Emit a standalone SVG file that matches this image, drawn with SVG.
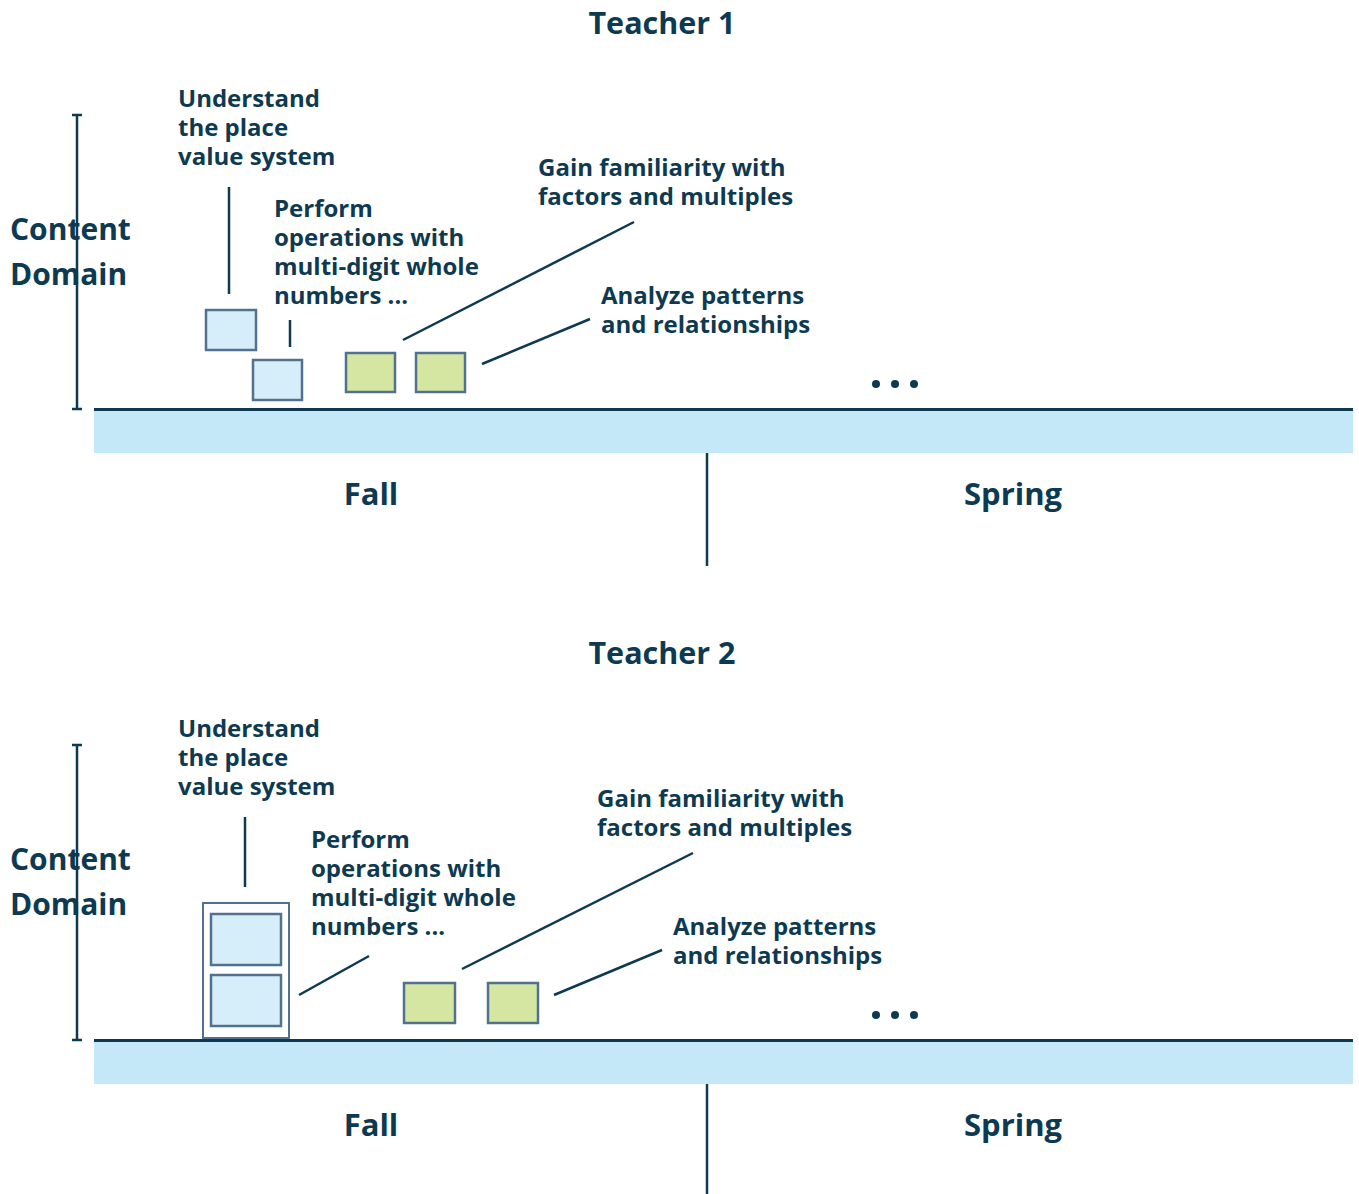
<svg xmlns="http://www.w3.org/2000/svg" width="1359" height="1194" viewBox="0 0 1359 1194">
<style>
text{font-family:"Open Sans","Liberation Sans",sans-serif;font-weight:bold;fill:#0e3a51}
.t{font-size:24px}
.h{font-size:30.5px;text-anchor:middle}
.cd{font-size:30px}
.s{font-size:31px;text-anchor:middle}
.ln{stroke:#0e3a51;stroke-width:2.5;fill:none}
.axis{stroke:#0e3a51;stroke-width:3}
.band{fill:#c5e8f8}
.bb{fill:#d6eefa;stroke:#52708f;stroke-width:2.5}
.gb{fill:#d5e6a3;stroke:#52708f;stroke-width:2.5}
.ob{fill:#fff;stroke:#52708f;stroke-width:2}
.dot{fill:#0e3a51}
</style>
<g id="teacher1">
<text class="h" x="662" y="34">Teacher 1</text>
<g id="t1-axis">
<path class="ln" d="M77 115V409M72 115H82M72 409H82"/>
<text class="cd" x="10" y="240">Content</text>
<text class="cd" x="10" y="285">Domain</text>
<rect class="band" x="94" y="410" width="1259" height="43"/>
<path class="axis" d="M94 409.5H1353"/>
<path class="ln" d="M707 453V566"/>
<text class="s" x="371" y="505">Fall</text>
<text class="s" x="1013" y="505">Spring</text>
</g>
<g id="t1-place"><rect class="bb" x="206" y="310" width="50" height="40"/>
<text class="t"><tspan x="178" y="107">Understand</tspan><tspan x="178" y="136">the place</tspan><tspan x="178" y="165">value system</tspan></text></g>
<g id="t1-ops"><rect class="bb" x="253" y="360" width="49" height="40"/>
<text class="t"><tspan x="274" y="217">Perform</tspan><tspan x="274" y="246">operations with</tspan><tspan x="274" y="275">multi-digit whole</tspan><tspan x="274" y="304">numbers ...</tspan></text></g>
<g id="t1-factors"><rect class="gb" x="346" y="353" width="49" height="39"/>
<text class="t"><tspan x="538" y="176">Gain familiarity with</tspan><tspan x="538" y="205">factors and multiples</tspan></text></g>
<g id="t1-patterns"><rect class="gb" x="416" y="353" width="49" height="39"/>
<text class="t"><tspan x="601" y="304">Analyze patterns</tspan><tspan x="601" y="333">and relationships</tspan></text></g>
<g id="t1-dots"><circle class="dot" cx="876" cy="384" r="4"/><circle class="dot" cx="895" cy="384" r="4"/><circle class="dot" cx="914" cy="384" r="4"/></g>
</g>
<g id="teacher2">
<text class="h" x="662" y="664">Teacher 2</text>
<g id="t2-axis">
<path class="ln" d="M77 745V1040M72 745H82M72 1040H82"/>
<text class="cd" x="10" y="870">Content</text>
<text class="cd" x="10" y="915">Domain</text>
<rect class="band" x="94" y="1041" width="1259" height="43"/>
<path class="axis" d="M94 1040.5H1353"/>
<path class="ln" d="M707 1084V1194"/>
<text class="s" x="371" y="1136">Fall</text>
<text class="s" x="1013" y="1136">Spring</text>
</g>
<g id="t2-group"><rect class="ob" x="203" y="903" width="86" height="135"/>
<rect class="bb" x="211" y="914" width="70" height="51"/>
<rect class="bb" x="211" y="975" width="70" height="51"/>
<text class="t"><tspan x="178" y="737">Understand</tspan><tspan x="178" y="766">the place</tspan><tspan x="178" y="795">value system</tspan></text>
<text class="t"><tspan x="311" y="848">Perform</tspan><tspan x="311" y="877">operations with</tspan><tspan x="311" y="906">multi-digit whole</tspan><tspan x="311" y="935">numbers ...</tspan></text></g>
<g id="t2-factors"><rect class="gb" x="404" y="983" width="51" height="40"/>
<text class="t"><tspan x="597" y="807">Gain familiarity with</tspan><tspan x="597" y="836">factors and multiples</tspan></text></g>
<g id="t2-patterns"><rect class="gb" x="488" y="983" width="50" height="40"/>
<text class="t"><tspan x="673" y="935">Analyze patterns</tspan><tspan x="673" y="964">and relationships</tspan></text></g>
<g id="t2-dots"><circle class="dot" cx="876" cy="1015" r="4"/><circle class="dot" cx="895" cy="1015" r="4"/><circle class="dot" cx="914" cy="1015" r="4"/></g>
</g>
<g id="connectors">
<path class="ln" d="M229 187V294"/>
<path class="ln" d="M290 320V347"/>
<path class="ln" d="M403 340L634 222"/>
<path class="ln" d="M482 364L590 319"/>
<path class="ln" d="M245 817V887"/>
<path class="ln" d="M299 995L369 956"/>
<path class="ln" d="M462 969L693 853"/>
<path class="ln" d="M554 995L662 950"/>
</g>
</svg>
